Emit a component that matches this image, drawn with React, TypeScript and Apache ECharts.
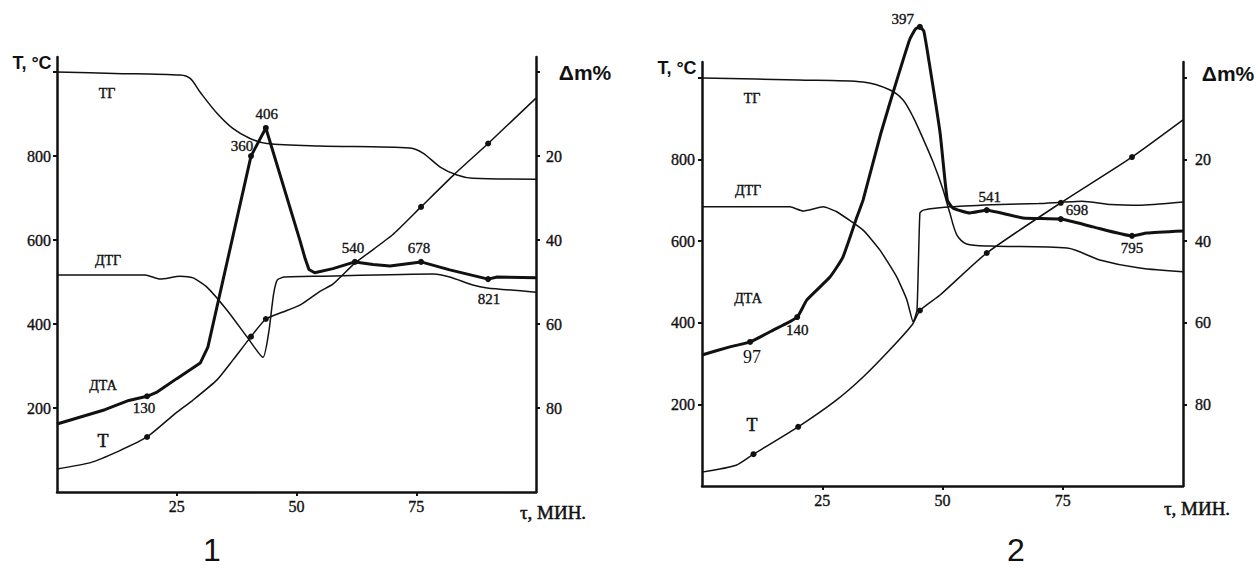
import React, { useEffect, useRef } from "react";
import * as echarts from "echarts";

// ---------- axis ticks ----------
const timeTicks = [25, 50, 75];
const tempTicks = [200, 400, 600, 800, 1000];
const tempLabels = [200, 400, 600, 800];
const massTicks = [0, 20, 40, 60, 80];
const massLabels = [20, 40, 60, 80];

// ---------- panel 1 : [time, value] ----------
const temp1 = [[0, 55], [7, 70], [13, 98], [18.8, 131], [24.8, 188], [28.4, 219], [33.4, 267], [36.7, 314], [40.5, 370], [43.6, 412], [47, 428], [50.7, 445], [54.9, 478], [57.6, 495], [62.2, 545], [70, 612], [76, 679], [83, 757], [90, 830], [100, 938]];
const dta1 = [[0, 162], [10, 196], [15, 218], [18.8, 228], [20.9, 238], [25, 270], [29.9, 307], [31.5, 345], [40.5, 800], [43.6, 867], [50.7, 600], [51.8, 556], [52.6, 530], [53.8, 522], [57.6, 532], [62.2, 548], [66, 542], [69.5, 538], [76, 548], [82, 529], [90, 507], [91.9, 512], [100, 510]];
const dtg1 = [[0, 517], [18.4, 517], [21.5, 507], [25.7, 514], [28.4, 510], [31.3, 488], [35.5, 433], [39.7, 369], [43, 321], [44.2, 380], [45.2, 470], [46, 505], [47.5, 512], [54.9, 514], [78.5, 519], [82, 512], [86.8, 493], [89.8, 486], [100, 476]];
const tg1 = [[0, 0], [12, 0.3], [25.7, 0.7], [27.8, 1.5], [29.9, 4.8], [33.4, 9.8], [36.7, 13.4], [40.3, 15.8], [43.8, 17], [54.9, 17.6], [73.7, 18.1], [76.4, 19.3], [80, 22.6], [83.5, 24.5], [86.8, 25.3], [100, 25.5]];
const dta1MarkTimes = [18.8, 40.5, 43.6, 62.2, 76, 90];
const dta1MarkLabels = ["130", "360", "406", "540", "678", "821"];
const temp1MarkTimes = [18.8, 40.5, 43.6, 76, 90];

// ---------- panel 2 ----------
const temp2 = [[0, 34], [7.1, 51], [10.7, 78], [20, 145], [28, 211], [33.5, 267], [39, 333], [43.7, 395], [45.3, 430], [49.5, 468], [59.2, 571], [74.6, 694], [89.4, 806], [100, 897]];
const dta2 = [[0, 321], [5.8, 341], [10, 353], [14.8, 382], [19.8, 414], [21.8, 456], [26.6, 512], [29.3, 561], [32.2, 659], [33.5, 701], [37.2, 865], [40.7, 1002], [43.2, 1095], [44.4, 1120], [45.3, 1125], [46.1, 1115], [47.2, 1040], [49.5, 865], [51, 701], [52.2, 681], [55.7, 669], [59.2, 676], [66.7, 657], [74.6, 654], [81.3, 635], [89.4, 613], [92.5, 620], [100, 625]];
const dtg2 = [[0, 684], [18.3, 684], [21, 674], [25.2, 684], [28, 672], [33.5, 627], [37, 578], [40.5, 512], [42.6, 456], [43.9, 402], [44.7, 431], [45.3, 669], [46, 676], [51.6, 684], [62, 690], [70, 692], [79, 698], [85, 690], [91, 688], [100, 696]];
const tg2 = [[0, 0], [20, 0.5], [33.5, 1.0], [39, 2.9], [41.8, 5.4], [43.9, 9.6], [46, 15], [48, 20.5], [50, 27], [51.5, 33], [53, 38.5], [55, 40.7], [60, 41.2], [75.9, 41.7], [82.7, 44.6], [91, 46.6], [100, 47.5]];
const dta2MarkTimes = [10, 19.8, 45.3, 59.2, 74.6, 89.4];
const dta2MarkLabels = ["97", "140", "397", "541", "698", "795"];
const temp2MarkTimes = [10.7, 20, 45.3, 59.2, 74.6, 89.4];

// ---------- styles ----------
const INK = "#111";
const SERIF = "Liberation Serif";
const SANS = "Liberation Sans";
// serif text is emboldened with a thin outline of the same ink
const serifBold = { fontFamily: SERIF, fontWeight: "normal", color: INK, textBorderColor: INK, textBorderWidth: 0.35 };
const lblBase = { ...serifBold, fontSize: 15 };
const dta1LabelPlace = [
  { position: "bottom", distance: 1, offset: [-3, 0] },
  { position: "top", distance: 3, offset: [-9, 3] },
  { position: "top", distance: 3, offset: [1, 0] },
  { position: "top", distance: 3, offset: [-2, 0] },
  { position: "top", distance: 3, offset: [-2, 0] },
  { position: "bottom", distance: 9, offset: [1, 0] },
];
const dta2LabelPlace = [
  { position: "bottom", distance: 3, offset: [2, 0], fontSize: 18, textBorderWidth: 0 },
  { position: "bottom", distance: 2, offset: [0, 0] },
  { position: "left", distance: 3, offset: [0, -8] },
  { position: "top", distance: 3, offset: [3, 0] },
  { position: "right", distance: 2, offset: [0, -9] },
  { position: "bottom", distance: 2, offset: [0, 0] },
];

function build(points: number[][], marks: number[], labels?: string[], place?: any[]) {
  return points.map((p) => {
    const i = marks.indexOf(p[0]);
    if (i < 0) return p;
    const item: any = { value: p, symbol: "circle", symbolSize: 6 };
    if (labels) {
      item.label = { show: true, formatter: labels[i], ...lblBase, ...(place ? place[i] : {}) };
    }
    return item;
  });
}

function lineSeries(data: any[], x: number, y: number, width: number, smooth: number | boolean, clip = true) {
  return {
    type: "line",
    xAxisIndex: x,
    yAxisIndex: y,
    data,
    symbol: "none",
    showSymbol: true,
    showAllSymbol: true,
    smooth,
    clip,
    lineStyle: { color: INK, width },
    itemStyle: { color: INK },
    emphasis: { disabled: true },
    silent: true,
  };
}

const tickLabelStyle = { ...serifBold, fontSize: 16 };

function xAxis(grid: number) {
  return {
    type: "value",
    gridIndex: grid,
    min: 0,
    max: 100,
    axisLine: { show: true, lineStyle: { color: INK, width: 2.5 } },
    axisTick: { show: true, customValues: timeTicks, length: 4, lineStyle: { color: INK, width: 2 } },
    axisLabel: { customValues: timeTicks, margin: 6, ...tickLabelStyle },
    splitLine: { show: false },
  };
}

function yLeft(grid: number, max: number, margin: number) {
  return {
    type: "value",
    gridIndex: grid,
    position: "left",
    min: 0,
    max,
    axisLine: { show: true, lineStyle: { color: INK, width: 2.5 } },
    axisTick: { show: true, customValues: tempTicks, length: 4, lineStyle: { color: INK, width: 2 } },
    axisLabel: { customValues: tempLabels, margin, ...tickLabelStyle },
    splitLine: { show: false },
  };
}

function yRight(grid: number, min: number, margin: number) {
  return {
    type: "value",
    gridIndex: grid,
    position: "right",
    inverse: true,
    min,
    max: 100,
    axisLine: { show: true, lineStyle: { color: INK, width: 2.5 } },
    axisTick: { show: true, customValues: massTicks, length: 4, lineStyle: { color: INK, width: 2 } },
    axisLabel: { customValues: massLabels, margin, ...tickLabelStyle },
    splitLine: { show: false },
  };
}

function txt(text: string, x: number, y: number, size: number, family: string, bold: boolean, stroke = 0) {
  return {
    type: "text",
    x,
    y,
    silent: true,
    style: {
      text,
      fill: INK,
      fontFamily: family,
      fontSize: size,
      fontWeight: bold ? "bold" : "normal",
      stroke: stroke > 0 ? INK : undefined,
      lineWidth: stroke,
      align: "center",
      verticalAlign: "middle",
    },
  };
}

export default function App() {
  const ref = useRef<HTMLDivElement>(null);
  useEffect(() => {
    const chart = echarts.init(ref.current!, null, { renderer: "svg" });
    const option: any = {
      animation: false,
      backgroundColor: "#fff",
      grid: [
        { left: 57, top: 57, width: 479, height: 435 },
        { left: 702, top: 62, width: 481, height: 424 },
      ],
      xAxis: [xAxis(0), xAxis(1)],
      yAxis: [yLeft(0, 1036, 6), yRight(0, -3.6, 10), yLeft(1, 1039, 7), yRight(1, -3.9, 12)],
      series: [
        lineSeries(build(temp1, temp1MarkTimes), 0, 0, 1.5, 0.2),
        lineSeries(build(dta1, dta1MarkTimes, dta1MarkLabels, dta1LabelPlace), 0, 0, 3, false),
        lineSeries(dtg1, 0, 0, 1.5, 0.2),
        lineSeries(tg1, 0, 1, 1.5, 0.3),
        lineSeries(build(temp2, temp2MarkTimes), 1, 2, 1.5, 0.2),
        lineSeries(build(dta2, dta2MarkTimes, dta2MarkLabels, dta2LabelPlace), 1, 2, 3, 0.15, false),
        lineSeries(dtg2, 1, 2, 1.5, 0.15),
        lineSeries(tg2, 1, 3, 1.5, 0.3),
      ],
      graphic: [
        txt("T, °C", 32, 63, 18, SANS, true),
        txt("Δm%", 585, 72, 21, SANS, true),
        txt("τ, МИН.", 553, 512, 19, SERIF, false, 0.5),
        txt("ТГ", 107, 93, 14, SERIF, false, 0.4),
        txt("ДТГ", 108, 260, 14, SERIF, false, 0.4),
        txt("ДТА", 103, 385, 14, SERIF, false, 0.4),
        txt("T", 103, 441, 18, SERIF, false, 0.5),
        txt("1", 212, 550, 32, SANS, false),
        txt("T, °C", 677, 68, 18, SANS, true),
        txt("Δm%", 1228, 73, 21, SANS, true),
        txt("τ, МИН.", 1197, 508, 19, SERIF, false, 0.5),
        txt("ТГ", 752, 98, 14, SERIF, false, 0.4),
        txt("ДТГ", 748, 190, 14, SERIF, false, 0.4),
        txt("ДТА", 748, 298, 14, SERIF, false, 0.4),
        txt("T", 752, 425, 18, SERIF, false, 0.5),
        txt("2", 1016, 550, 32, SANS, false),
      ],
    };
    chart.setOption(option);
    return () => chart.dispose();
  }, []);
  return <div ref={ref} style={{ position: "fixed", left: 0, top: 0, width: 1260, height: 574, background: "#fff" }} />;
}
